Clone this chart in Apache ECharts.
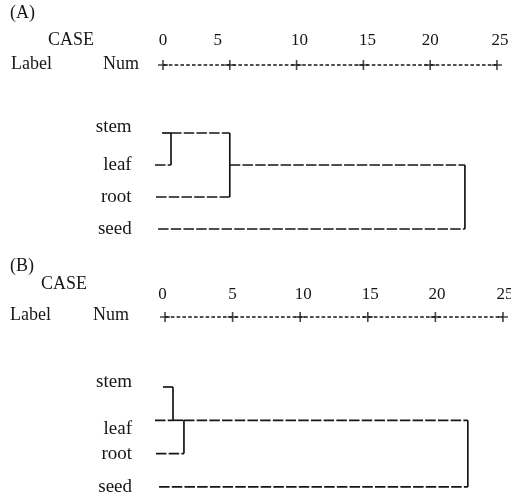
<!DOCTYPE html>
<html>
<head>
<meta charset="utf-8">
<script src="https://cdn.jsdelivr.net/npm/echarts@6/dist/echarts.min.js"></script>
<style>
html,body{margin:0;padding:0;background:#fff;}
#c{width:511px;height:497px;}
</style>
</head>
<body>
<div id="c"></div>
<script>
// ---- data ----
const ticks = [0, 5, 10, 15, 20, 25];
const cases = ['stem', 'leaf', 'root', 'seed'];
// where each case's line starts (rescaled distance)
const startA = [-0.07, -0.6, -0.52, -0.37];
const startB = [-0.15, -0.74, -0.67, -0.44];
// merges: [row of upper cluster, row of lower cluster, distance, row the joined cluster continues on]
const mergesA = [[0, 1, 0.6, 0], [0, 2, 5.0, 1], [1, 3, 22.6, 1]];
const mergesB = [[0, 1, 0.59, 1], [1, 2, 1.4, 1], [1, 3, 22.4, 1]];

const FONT = '"Liberation Serif", "DejaVu Serif", serif';
const INK = '#161616';

function dendroSeries(starts, merges, gi, headerRow) {
  const series = [];
  const cur = {}; // row -> current x
  starts.forEach((x, r) => { cur[r] = x; });
  const hseg = (row, x1, x2) => series.push({
    type: 'line', xAxisIndex: gi, yAxisIndex: gi, symbol: 'none', silent: true, clip: false,
    data: [[x1, row], [x2, row]],
    lineStyle: { color: INK, width: 1.7, type: [10.5, 2.2] }
  });
  const vseg = (x, r1, r2) => series.push({
    type: 'line', xAxisIndex: gi, yAxisIndex: gi, symbol: 'none', silent: true, clip: false,
    data: [[x, r1], [x, r2]],
    lineStyle: { color: INK, width: 1.7, type: 'solid' }
  });
  merges.forEach(([a, b, h, cont]) => {
    hseg(a, cur[a], h);
    hseg(b, cur[b], h);
    vseg(h, a, b);
    delete cur[a]; delete cur[b];
    cur[cont] = h;
  });
  // header "+--------+" scale row
  series.push({
    type: 'line', xAxisIndex: gi, yAxisIndex: gi, symbol: 'none', silent: true, clip: false,
    data: [[ticks[0], headerRow], [ticks[ticks.length - 1], headerRow]],
    lineStyle: { color: INK, width: 1.5, type: [3.6, 2.2] }
  });
  series.push({
    type: 'scatter', xAxisIndex: gi, yAxisIndex: gi, silent: true, clip: false,
    symbol: 'path://M4.2,0h1.6v4.2h4.2v1.6h-4.2v4.2h-1.6v-4.2h-4.2v-1.6h4.2z',
    symbolSize: 10, itemStyle: { color: INK },
    data: ticks.map(t => [t, headerRow])
  });
  return series;
}

const chart = echarts.init(document.getElementById('c'), null, { renderer: 'canvas' });

// per-label nudges to mimic the scanned text layout
function xAx(gi, margin, rich) {
  return {
    type: 'value', gridIndex: gi, position: 'top', min: -1, max: 26,
    axisLine: { show: false }, axisTick: { show: false }, splitLine: { show: false },
    axisLabel: { customValues: ticks, margin: margin, color: INK, fontFamily: FONT, fontSize: 17,
      formatter: v => '{t' + v + '|' + v + '}', rich: rich }
  };
}
function yAx(gi, min, max, margin, rich) {
  return {
    type: 'value', gridIndex: gi, inverse: true, min: min, max: max,
    axisLine: { show: false }, axisTick: { show: false }, splitLine: { show: false },
    axisLabel: { customValues: [0, 1, 2, 3], margin: margin,
      formatter: v => '{r' + v + '|' + cases[v] + '}', rich: rich,
      color: INK, fontFamily: FONT, fontSize: 19 }
  };
}
const txt = (t, x, y) => ({ type: 'text', left: x, top: y - 11,
  style: { text: t, fill: INK, font: '18px ' + FONT } });

const lbl = (extra) => Object.assign({ color: INK, fontFamily: FONT, fontSize: 19 }, extra);
const tk = (extra) => Object.assign({ color: INK, fontFamily: FONT, fontSize: 17 }, extra);

chart.setOption({
  animation: false,
  backgroundColor: '#fff',
  grid: [
    { left: 149.64, width: 360.7, top: 55, height: 190, outerBoundsMode: 'none', containLabel: false },
    { left: 151.5, width: 365, top: 308, height: 188.9, outerBoundsMode: 'none', containLabel: false }
  ],
  xAxis: [
    xAx(0, 6, { t0: tk({}), t5: tk({ padding: [0, 24, 0, 0] }), t10: tk({ padding: [0, 0, 0, 6] }),
      t15: tk({ padding: [0, 0, 0, 8] }), t20: tk({}), t25: tk({ padding: [0, 0, 0, 6] }) }),
    xAx(1, 4.5, { t0: tk({ padding: [0, 5, 0, 0] }), t5: tk({}), t10: tk({ padding: [0, 0, 0, 6] }),
      t15: tk({ padding: [0, 0, 0, 5] }), t20: tk({ padding: [0, 0, 0, 3] }), t25: tk({ padding: [0, 0, 0, 4] }) })
  ],
  yAxis: [
    yAx(0, -2.4375, 3.5, 18, { r0: lbl({ padding: [0, 0, 12, 0] }), r1: lbl({}), r2: lbl({}), r3: lbl({}) }),
    yAx(1, -2.372, 3.3, 19.5, { r0: lbl({ padding: [0, 0, 10, 0] }), r1: lbl({ padding: [18, 0, 0, 0] }),
      r2: lbl({}), r3: lbl({}) })
  ],
  series: [].concat(
    dendroSeries(startA, mergesA, 0, -2.125),
    dendroSeries(startB, mergesB, 1, -2.1)
  ),
  graphic: [
    txt('(A)', 10, 15), txt('CASE', 48, 42), txt('Label', 11, 66), txt('Num', 103, 66),
    txt('(B)', 10, 268), txt('CASE', 41, 286), txt('Label', 10, 317), txt('Num', 93, 317)
  ]
});
</script>
</body>
</html>
